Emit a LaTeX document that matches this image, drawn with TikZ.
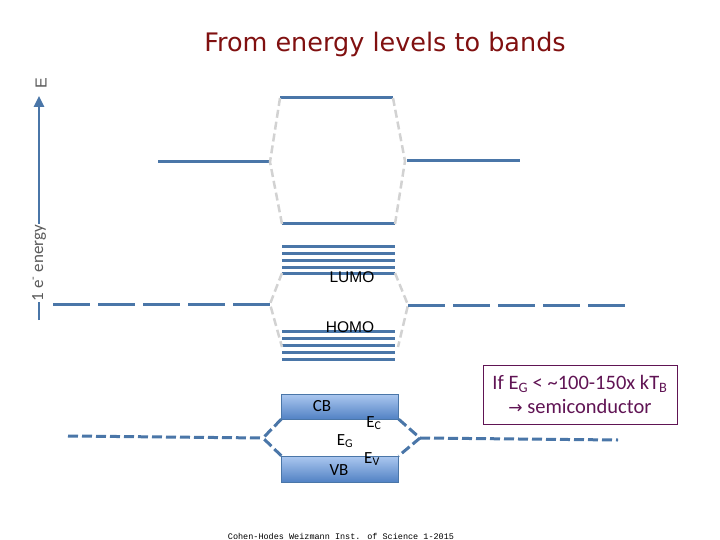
\documentclass[tikz,border=0pt]{standalone}
\usepackage{fontspec}
\setmainfont{Carlito}
\newfontfamily\titlefont{DejaVu Sans}
\newfontfamily\arialfont{Liberation Sans}
\newfontfamily\creditfont{Liberation Mono}
\newfontfamily\arrowfont{DejaVu Sans}
\usetikzlibrary{arrows.meta,positioning}
\definecolor{level-blue}{RGB}{74,118,168}
\definecolor{gap-grey}{RGB}{210,210,210}
\definecolor{title-red}{RGB}{128,16,16}
\definecolor{note-purple}{RGB}{96,20,84}
\definecolor{band-top}{RGB}{172,200,240}
\definecolor{band-bot}{RGB}{82,130,196}
\definecolor{axis-grey}{RGB}{90,90,90}

\begin{document}
\begin{tikzpicture}[x=1pt, y=-1pt,
    level/.style={level-blue, line width=3pt},
    longdash/.style={level, dash pattern=on 37pt off 8pt},
    shortdash/.style={level, dash pattern=on 10pt off 4pt},
    split/.style={gap-grey, line width=2.5pt, dash pattern=on 8pt off 4pt},
    band/.style={draw=level-blue, top color=band-top, bottom color=band-bot,
      minimum width=117pt, inner sep=0pt},
    every node/.style={font=\fontsize{17}{19}\selectfont}]
  \useasboundingbox (0,0) rectangle (720,540);

  % Title
  \node[font=\titlefont\fontsize{25.5}{28}\selectfont, text=title-red] (title) at (385,44) {From energy levels to bands};

  % Energy axis
  \coordinate (axbot) at (39,320);
  \coordinate (axtop) at (39,96);
  \draw[level-blue, line width=2.5pt, -{Triangle[length=11pt,width=10pt]}] (axbot) -- (axtop);
  \node[rotate=90, fill=white, inner sep=1pt, text=axis-grey, font=\fontsize{17}{18}\selectfont] (axlabel) at (39,263) {1 e\textsuperscript{-} energy};
  \node[rotate=90, inner sep=0pt, text=axis-grey, font=\arialfont\fontsize{16}{17}\selectfont] (elabel) at (41,83) {E};

  % Atomic levels
  \coordinate (la1) at (158,162);
  \coordinate (la2) at (270,162);
  \coordinate (ra1) at (407,161);
  \coordinate (ra2) at (520,161);
  \draw[level] (la1) -- (la2);
  \draw[level] (ra1) -- (ra2);

  % Split levels
  \coordinate (top1) at (280,98);
  \coordinate (top2) at (393,98);
  \coordinate (mid1) at (282,224);
  \coordinate (mid2) at (395,224);
  \draw[level] (top1) -- (top2);
  \draw[level] (mid1) -- (mid2);
  \foreach \y in {246,253,260,267,273}
    \draw[level] (282,\y) -- (395,\y);
  \foreach \y in {331,338,345,352,359}
    \draw[level] (282,\y) -- (395,\y);
  \node[font=\arialfont\fontsize{15.5}{17}\selectfont] (lumo) at (352,277) {LUMO};
  \node[font=\arialfont\fontsize{15.5}{17}\selectfont] (homo) at (350,327) {HOMO};

  % Grey splitting lines
  \draw[split] (top1) -- (la2) -- (mid1);
  \draw[split] (top2) -- (405,161) -- (mid2);
  \coordinate (ll1) at (270,304);
  \coordinate (rl1) at (408,305);
  \draw[split] (282,273) -- (ll1) -- (282,347);
  \draw[split] (395,273) -- (rl1) -- (398,347);

  % Many-atom levels
  \draw[longdash] (53,304) -- (ll1);
  \draw[longdash] (rl1) -- (625,305);

  % Bands
  \node[band, minimum height=25pt] (cb) at (340,406.5) {};
  \node[band, minimum height=26pt] (vb) at (340,469) {};
  \node (cblabel) at (322,406) {CB};
  \node (vblabel) at (339,470) {VB};
  \node (ec) at (374,423) {E\textsubscript{C}};
  \node (eg) at (345,441) {E\textsubscript{G}};
  \node (ev) at (372,459) {E\textsubscript{V}};

  \coordinate (bl0) at (68,436);
  \coordinate (bl1) at (263,438);
  \coordinate (br1) at (420,438);
  \coordinate (br0) at (618,440);
  \draw[shortdash] (bl0) -- (bl1);
  \draw[shortdash] (cb.south west) -- (bl1) -- (vb.north west);
  \draw[shortdash] (cb.south east) -- (br1) -- (vb.north east);
  \draw[shortdash] (br1) -- (br0);

  % Note
  \node[draw=note-purple, line width=1pt, text=note-purple, align=center, inner sep=0pt,
    minimum width=194pt, minimum height=59pt, font=\fontsize{20.5}{24}\selectfont] (note) at (580,394.5)
    {If E\textsubscript{G} < \textasciitilde100-150x kT\textsubscript{B}\\{\arrowfont\fontsize{17}{20}\selectfont →} semiconductor};

  % Credit
  \node[font=\creditfont\fontsize{8.5}{9}\selectfont] (credit) at (341,536) {Cohen-Hodes Weizmann Inst. of Science 1-2015};
\end{tikzpicture}
\end{document}
